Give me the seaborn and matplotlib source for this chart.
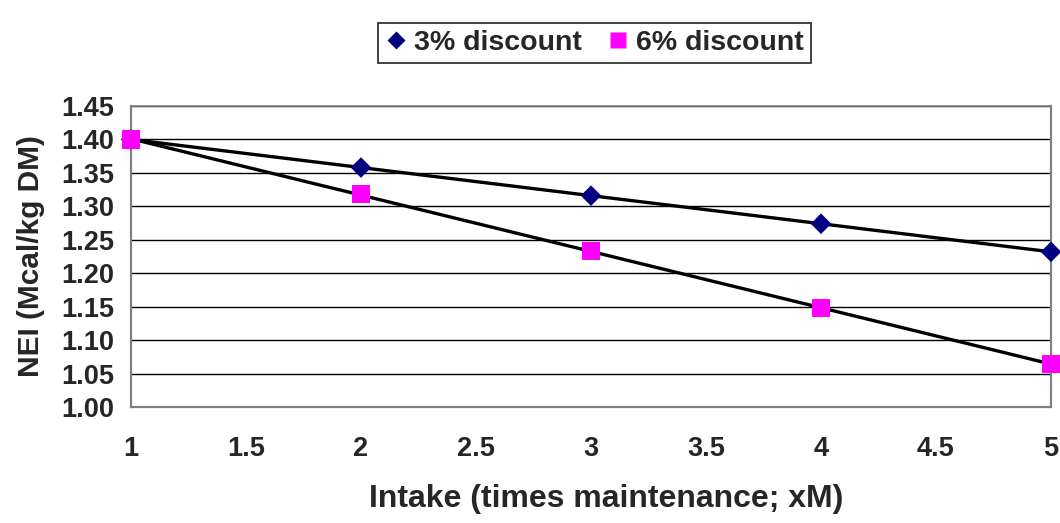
import matplotlib
matplotlib.use("Agg")
import matplotlib.pyplot as plt
import seaborn as sns
import pandas as pd
from matplotlib.lines import Line2D

# Intake level (times maintenance) and net energy values per discount rate
intake = [1, 2, 3, 4, 5]
nei_3pct = [1.400, 1.358, 1.316, 1.274, 1.232]
nei_6pct = [1.400, 1.318, 1.233, 1.148, 1.064]
series_names = ["3% discount", "6% discount"]
y_ticks = [1.00, 1.05, 1.10, 1.15, 1.20, 1.25, 1.30, 1.35, 1.40, 1.45]
x_ticks = [1, 1.5, 2, 2.5, 3, 3.5, 4, 4.5, 5]

sns.set_style("white")
plt.rcParams["font.family"] = ["Liberation Sans", "DejaVu Sans"]
plt.rcParams["font.weight"] = "bold"

df = pd.DataFrame({
    "intake": intake * 2,
    "nei": nei_3pct + nei_6pct,
    "series": [series_names[0]] * len(intake) + [series_names[1]] * len(intake),
})

fig = plt.figure(figsize=(10.6, 5.23), dpi=100)
ax = fig.add_axes([0.1236, 0.2218, 0.8679, 0.5755])

# linear trend lines
for name in series_names:
    sub = df[df["series"] == name]
    sns.regplot(data=sub, x="intake", y="nei", ax=ax, scatter=False, ci=None,
                line_kws=dict(color="black", lw=2.4, zorder=3))

palette = {series_names[0]: "#000080", series_names[1]: "#FF00FF"}
markers = {series_names[0]: "D", series_names[1]: "s"}
sizes = {series_names[0]: 110, series_names[1]: 170}
for name in series_names:
    sub = df[df["series"] == name]
    sns.scatterplot(data=sub, x="intake", y="nei", ax=ax, color=palette[name],
                    marker=markers[name], s=sizes[name], edgecolor="none",
                    zorder=4, clip_on=False, legend=False)

ax.set_xlim(1, 5)
ax.set_ylim(1.00, 1.45)
ax.set_yticks(y_ticks)
ax.set_yticklabels([f"{v:.2f}" for v in y_ticks])
ax.set_xticks(x_ticks)
ax.set_xticklabels([f"{v:g}" for v in x_ticks])

ax.yaxis.grid(True, color="black", lw=1.0)
ax.set_axisbelow(True)
for side in ["left", "bottom", "right"]:
    ax.spines[side].set_visible(True)
    ax.spines[side].set_color("#808080")
    ax.spines[side].set_linewidth(1.6)
ax.spines["top"].set_visible(True)
ax.spines["top"].set_color("#808080")
ax.spines["top"].set_linewidth(1.2)

ax.tick_params(axis="both", which="major", direction="out", length=7,
               width=1.5, color="#606060", labelsize=19.5)
ax.tick_params(axis="x", pad=14)
ax.tick_params(axis="y", pad=5)
for lab in ax.get_xticklabels() + ax.get_yticklabels():
    lab.set_fontweight("bold")

ax.set_xlabel("Intake (times maintenance; xM)", fontsize=23, fontweight="bold",
              labelpad=16)
ax.xaxis.label.set_x(0.516)
ax.set_ylabel("NEI (Mcal/kg DM)", fontsize=21.5, fontweight="bold", labelpad=12)

handles = [
    Line2D([], [], ls="none", marker="D", color=palette[series_names[0]],
           markersize=9, markeredgecolor="none"),
    Line2D([], [], ls="none", marker="s", color=palette[series_names[1]],
           markersize=11, markeredgecolor="none"),
]
leg = fig.legend(handles, series_names, loc="center",
                 bbox_to_anchor=(0.561, 0.918), ncol=2, frameon=True,
                 fancybox=False, edgecolor="black",
                 prop={"weight": "bold", "size": 20.5},
                 handlelength=0.7, handletextpad=0.3, columnspacing=0.9,
                 borderpad=0.25, borderaxespad=0)
leg.get_frame().set_linewidth(1.3)

fig.savefig("out.png", dpi=100, facecolor="white")
